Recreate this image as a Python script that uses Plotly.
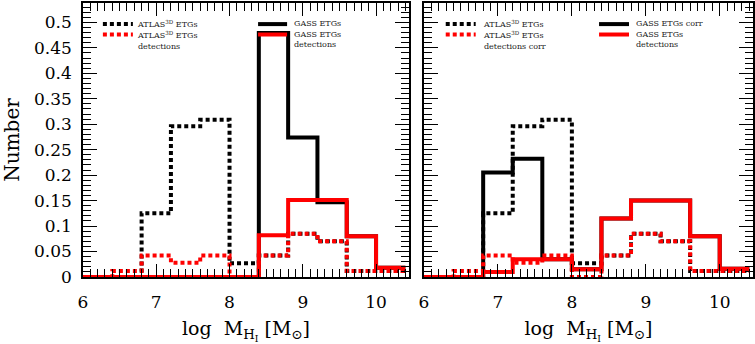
import plotly.graph_objects as go

# ---------------- data ----------------
bin_edges = [6.0, 6.4, 6.8, 7.2, 7.6, 8.0, 8.4, 8.8, 9.2, 9.6, 10.0, 10.4]

# left panel
atlas_etgs = [0.0, 0.0, 0.125, 0.296, 0.309, 0.027, 0.042, 0.085, 0.070, 0.012, 0.012]
atlas_det = [0.0, 0.012, 0.042, 0.028, 0.042, 0.0, 0.042, 0.085, 0.070, 0.012, 0.012]
gass_etgs = [0.0, 0.0, 0.0, 0.0, 0.0, 0.0, 0.479, 0.274, 0.147, 0.080, 0.018]
gass_det = [0.0, 0.0, 0.0, 0.0, 0.0, 0.0, 0.082, 0.151, 0.151, 0.080, 0.018]

# right panel
atlas_etgs_r = [0.0, 0.0, 0.125, 0.296, 0.309, 0.027, 0.042, 0.085, 0.070, 0.012, 0.012]
atlas_det_corr = [0.0, 0.012, 0.042, 0.028, 0.042, 0.0, 0.042, 0.085, 0.070, 0.012, 0.012]
gass_etgs_corr = [0.0, 0.0, 0.205, 0.232, 0.035, 0.015, 0.115, 0.150, 0.150, 0.080, 0.016]
gass_det_r = [0.0, 0.0, 0.010, 0.035, 0.035, 0.015, 0.115, 0.150, 0.150, 0.080, 0.016]

x_tickvals = [6, 7, 8, 9, 10]
x_ticktext = ["6", "7", "8", "9", "10"]

legend_left = ["ATLAS<sup>3D</sup> ETGs", "ATLAS<sup>3D</sup> ETGs<br>detections",
               "GASS ETGs", "GASS ETGs<br>detections"]
legend_right = ["ATLAS<sup>3D</sup> ETGs", "ATLAS<sup>3D</sup> ETGs<br>detections corr",
                "GASS ETGs corr", "GASS ETGs<br>detections"]

# ---------------- styling ----------------
FONT = "DejaVu Serif"
RED = "#ff0000"
DOT = "4px,3px"
LW = 4

fig = go.Figure()


def step(vals, xa, ya, color, dash):
    fig.add_trace(go.Scatter(
        x=bin_edges, y=list(vals) + [vals[-1]], mode="lines", line_shape="hv",
        line=dict(color=color, width=LW, dash=dash), xaxis=xa, yaxis=ya,
        showlegend=False, hoverinfo="skip"))


# left panel
step(atlas_etgs, "x", "y", "black", DOT)
step(gass_etgs, "x", "y", "black", "solid")
step(gass_det, "x", "y", RED, "solid")
step(atlas_det, "x", "y", RED, DOT)
# right panel
step(atlas_etgs_r, "x2", "y2", "black", DOT)
step(gass_etgs_corr, "x2", "y2", "black", "solid")
step(gass_det_r, "x2", "y2", RED, "solid")
step(atlas_det_corr, "x2", "y2", RED, DOT)

# ---------------- axes ----------------
xcommon = dict(range=[6, 10.45], tickvals=x_tickvals, ticktext=x_ticktext,
               ticks="inside", ticklen=13, tickwidth=1, tickcolor="black",
               minor=dict(dtick=0.1, tick0=6, ticks="inside", ticklen=8,
                          tickwidth=1, tickcolor="black"),
               showline=True, linecolor="black", linewidth=1.5, mirror="ticks",
               showgrid=False, zeroline=False, automargin=False,
               tickfont=dict(family=FONT, size=17, color="black"),
               ticklabelstandoff=9,
               title=dict(text="log  M<sub>H<sub>I</sub></sub> [M<sub>⊙</sub>]",
                          font=dict(family=FONT, size=19, color="black"),
                          standoff=12))
ycommon = dict(range=[0, 0.538], dtick=0.05, tick0=0,
               ticks="inside", ticklen=14, tickwidth=1, tickcolor="black",
               minor=dict(dtick=0.01, tick0=0, ticks="inside", ticklen=8,
                          tickwidth=1, tickcolor="black"),
               showline=True, linecolor="black", linewidth=1.5, mirror="ticks",
               showgrid=False, zeroline=False, automargin=False,
               ticklabelstandoff=6,
               tickfont=dict(family=FONT, size=17, color="black"))

fig.update_layout(
    width=755, height=344,
    margin=dict(l=83, r=2, t=3, b=67),
    paper_bgcolor="white", plot_bgcolor="white",
    showlegend=False,
    xaxis=dict(domain=[0, 0.4866], anchor="y", **xcommon),
    xaxis2=dict(domain=[0.509, 1.0], anchor="y2", **xcommon),
    yaxis=dict(domain=[0, 1], anchor="x",
               title=dict(text="Number", font=dict(family=FONT, size=20, color="black"),
                          standoff=14),
               **ycommon),
    yaxis2=dict(domain=[0, 1], anchor="x2", showticklabels=False, **ycommon),
)

# ---------------- legend keys (drawn inside each panel) ----------------
LEG_FONT = dict(family=FONT, size=8, color="#222222")


def legend(xa, ya, entries, col_x, row_y):
    styles = [("black", DOT), (RED, DOT), ("black", "solid"), (RED, "solid")]
    for i, (txt, (c, d)) in enumerate(zip(entries, styles)):
        col = i // 2
        row = i % 2
        x0, x1, xt = col_x[col]
        yy = row_y[row]
        fig.add_shape(type="line", xref=f"{xa} domain", yref=f"{ya} domain",
                      x0=x0, x1=x1, y0=yy, y1=yy,
                      line=dict(color=c, width=LW, dash=d))
        fig.add_annotation(xref=f"{xa} domain", yref=f"{ya} domain", x=xt, y=yy + 0.021,
                           text=txt, showarrow=False, xanchor="left", yanchor="top",
                           align="left", borderpad=0, font=LEG_FONT)


legend("x", "y", legend_left, [(0.061, 0.153, 0.163), (0.537, 0.626, 0.645)], [0.923, 0.885])
legend("x2", "y2", legend_right, [(0.066, 0.157, 0.176), (0.532, 0.623, 0.641)], [0.923, 0.885])

fig.write_html("out.html", config={"displayModeBar": False},
               post_script="document.body.style.margin='0';")
